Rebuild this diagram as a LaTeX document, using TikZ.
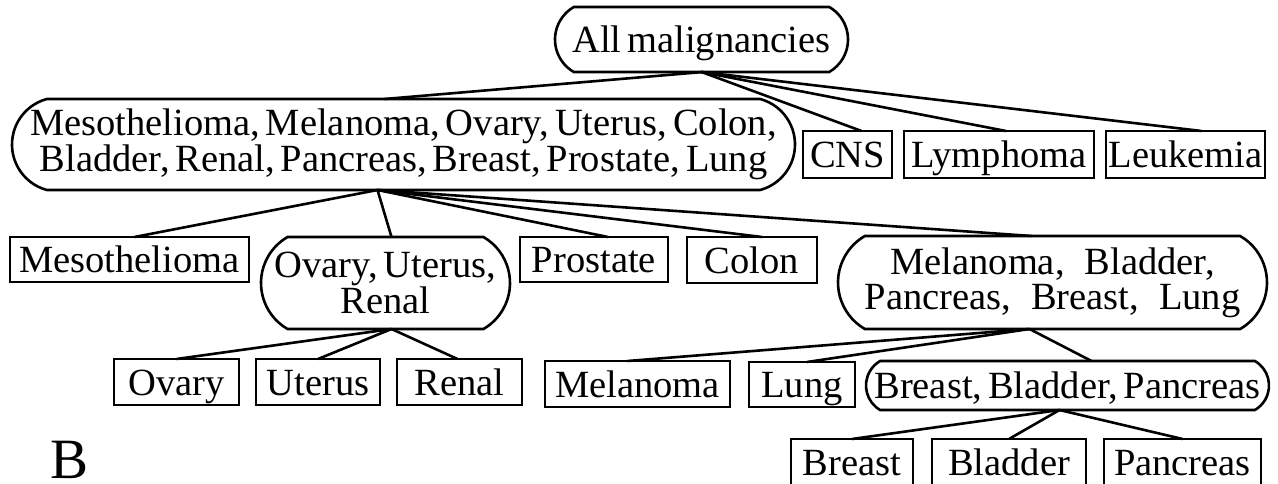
\documentclass[tikz,border=0pt]{standalone}
\usepackage{fontspec}
\setmainfont[WordSpace=0.6]{Liberation Serif}
\usetikzlibrary{shapes.misc}
\begin{document}
\begin{tikzpicture}[x=1pt,y=-1pt,
  every node/.style={font=\fontsize{38.5}{35}\selectfont, inner sep=0pt, outer sep=0pt, line width=2.6pt, align=center},
  oneline/.style={text height=27pt, text depth=1pt},
  leaf/.style={draw, rectangle, minimum height=46pt, oneline},
  group/.style={draw, rounded rectangle, rounded rectangle arc length=120},
  link/.style={line width=2.6pt}]
\useasboundingbox (0,0) rectangle (1278,484);
\clip (0,0) rectangle (1278,484);
% level 0
\node[group, oneline, minimum width=293pt, minimum height=65pt] (root) at (701.5,39.5) {All malignancies};
% level 1
\node[group, rounded rectangle arc length=150, minimum width=783pt, minimum height=91pt] (big) at (403.5,144.5)
  {Mesothelioma, Melanoma, Ovary, Uterus, Colon,\\Bladder, Renal, Pancreas, Breast, Prostate, Lung};
\node[leaf, minimum width=89pt, minimum height=47pt] (cns) at (847.5,154.5) {CNS};
\node[leaf, minimum width=190pt, minimum height=47pt] (lym) at (999,154.5) {Lymphoma};
\node[leaf, minimum width=159pt, minimum height=47pt] (leu) at (1185.5,154.5) {Leukemia};
% level 2
\node[leaf, minimum width=239pt, minimum height=45pt] (meso) at (129.5,259.5) {Mesothelioma};
\node[group, minimum width=249pt, minimum height=92pt] (our) at (385.5,283) {Ovary, Uterus,\\Renal};
\node[leaf, minimum width=148pt, minimum height=45pt] (pro) at (594,259.5) {Prostate};
\node[leaf, minimum width=130pt] (col) at (752,260) {Colon};
\node[group, minimum width=429pt, minimum height=93pt] (mbp) at (1052.5,282.5)
  {Melanoma,\hspace{20pt}Bladder,\\Pancreas,\hspace{20pt}Breast,\hspace{20pt}Lung};
% level 3
\node[leaf, minimum width=125pt] (ova) at (176.5,382) {Ovary};
\node[leaf, minimum width=124pt] (ute) at (318,382) {Uterus};
\node[leaf, minimum width=125pt] (ren) at (459.5,382) {Renal};
\node[leaf, minimum width=185pt] (mel) at (637.5,384) {Melanoma};
\node[leaf, minimum width=106pt, minimum height=45pt] (lun) at (802,384.5) {Lung};
\node[group, oneline, minimum width=403pt, minimum height=49pt] (bbp) at (1067.5,385.5) {Breast, Bladder, Pancreas};
% level 4
\node[leaf, minimum width=122pt] (bre) at (852,462) {Breast};
\node[leaf, minimum width=154pt] (bla) at (1009,462) {Bladder};
\node[leaf, minimum width=157pt] (pan) at (1182.5,462) {Pancreas};
% panel label
\node[font=\fontsize{57}{57}\selectfont, text height=38pt, text depth=0pt] (lab) at (69.5,459) {B};
% connectors
\draw[link] ([xshift=1.5pt]root.south) -- ([xshift=-19pt]big.north);
\draw[link] (root.south) -- ([xshift=14pt]cns.north);
\draw[link] (root.south) -- ([xshift=7pt]lym.north);
\draw[link] (root.south) -- ([xshift=16pt]leu.north);
\draw[link] ([xshift=-26pt]big.south) -- ([xshift=5pt]meso.north);
\draw[link] ([xshift=-26pt]big.south) -- ([xshift=6pt]our.north);
\draw[link] ([xshift=-26pt]big.south) -- ([xshift=14pt]pro.north);
\draw[link] ([xshift=-26pt]big.south) -- ([xshift=10pt]col.north);
\draw[link] ([xshift=-26pt]big.south) -- ([xshift=-21pt]mbp.north);
\draw[link] ([xshift=6pt]our.south) -- (ova.north);
\draw[link] ([xshift=6pt]our.south) -- (ute.north);
\draw[link] ([xshift=6pt]our.south) -- ([xshift=-2pt]ren.north);
\draw[link] ([xshift=-23pt]mbp.south) -- ([xshift=-10pt]mel.north);
\draw[link] ([xshift=-23pt]mbp.south) -- ([xshift=5pt]lun.north);
\draw[link] ([xshift=-23pt]mbp.south) -- ([xshift=24pt]bbp.north);
\draw[link] ([xshift=-8pt]bbp.south) -- (bre.north);
\draw[link] ([xshift=-8pt]bbp.south) -- (bla.north);
\draw[link] ([xshift=-8pt]bbp.south) -- (pan.north);
\end{tikzpicture}
\end{document}
